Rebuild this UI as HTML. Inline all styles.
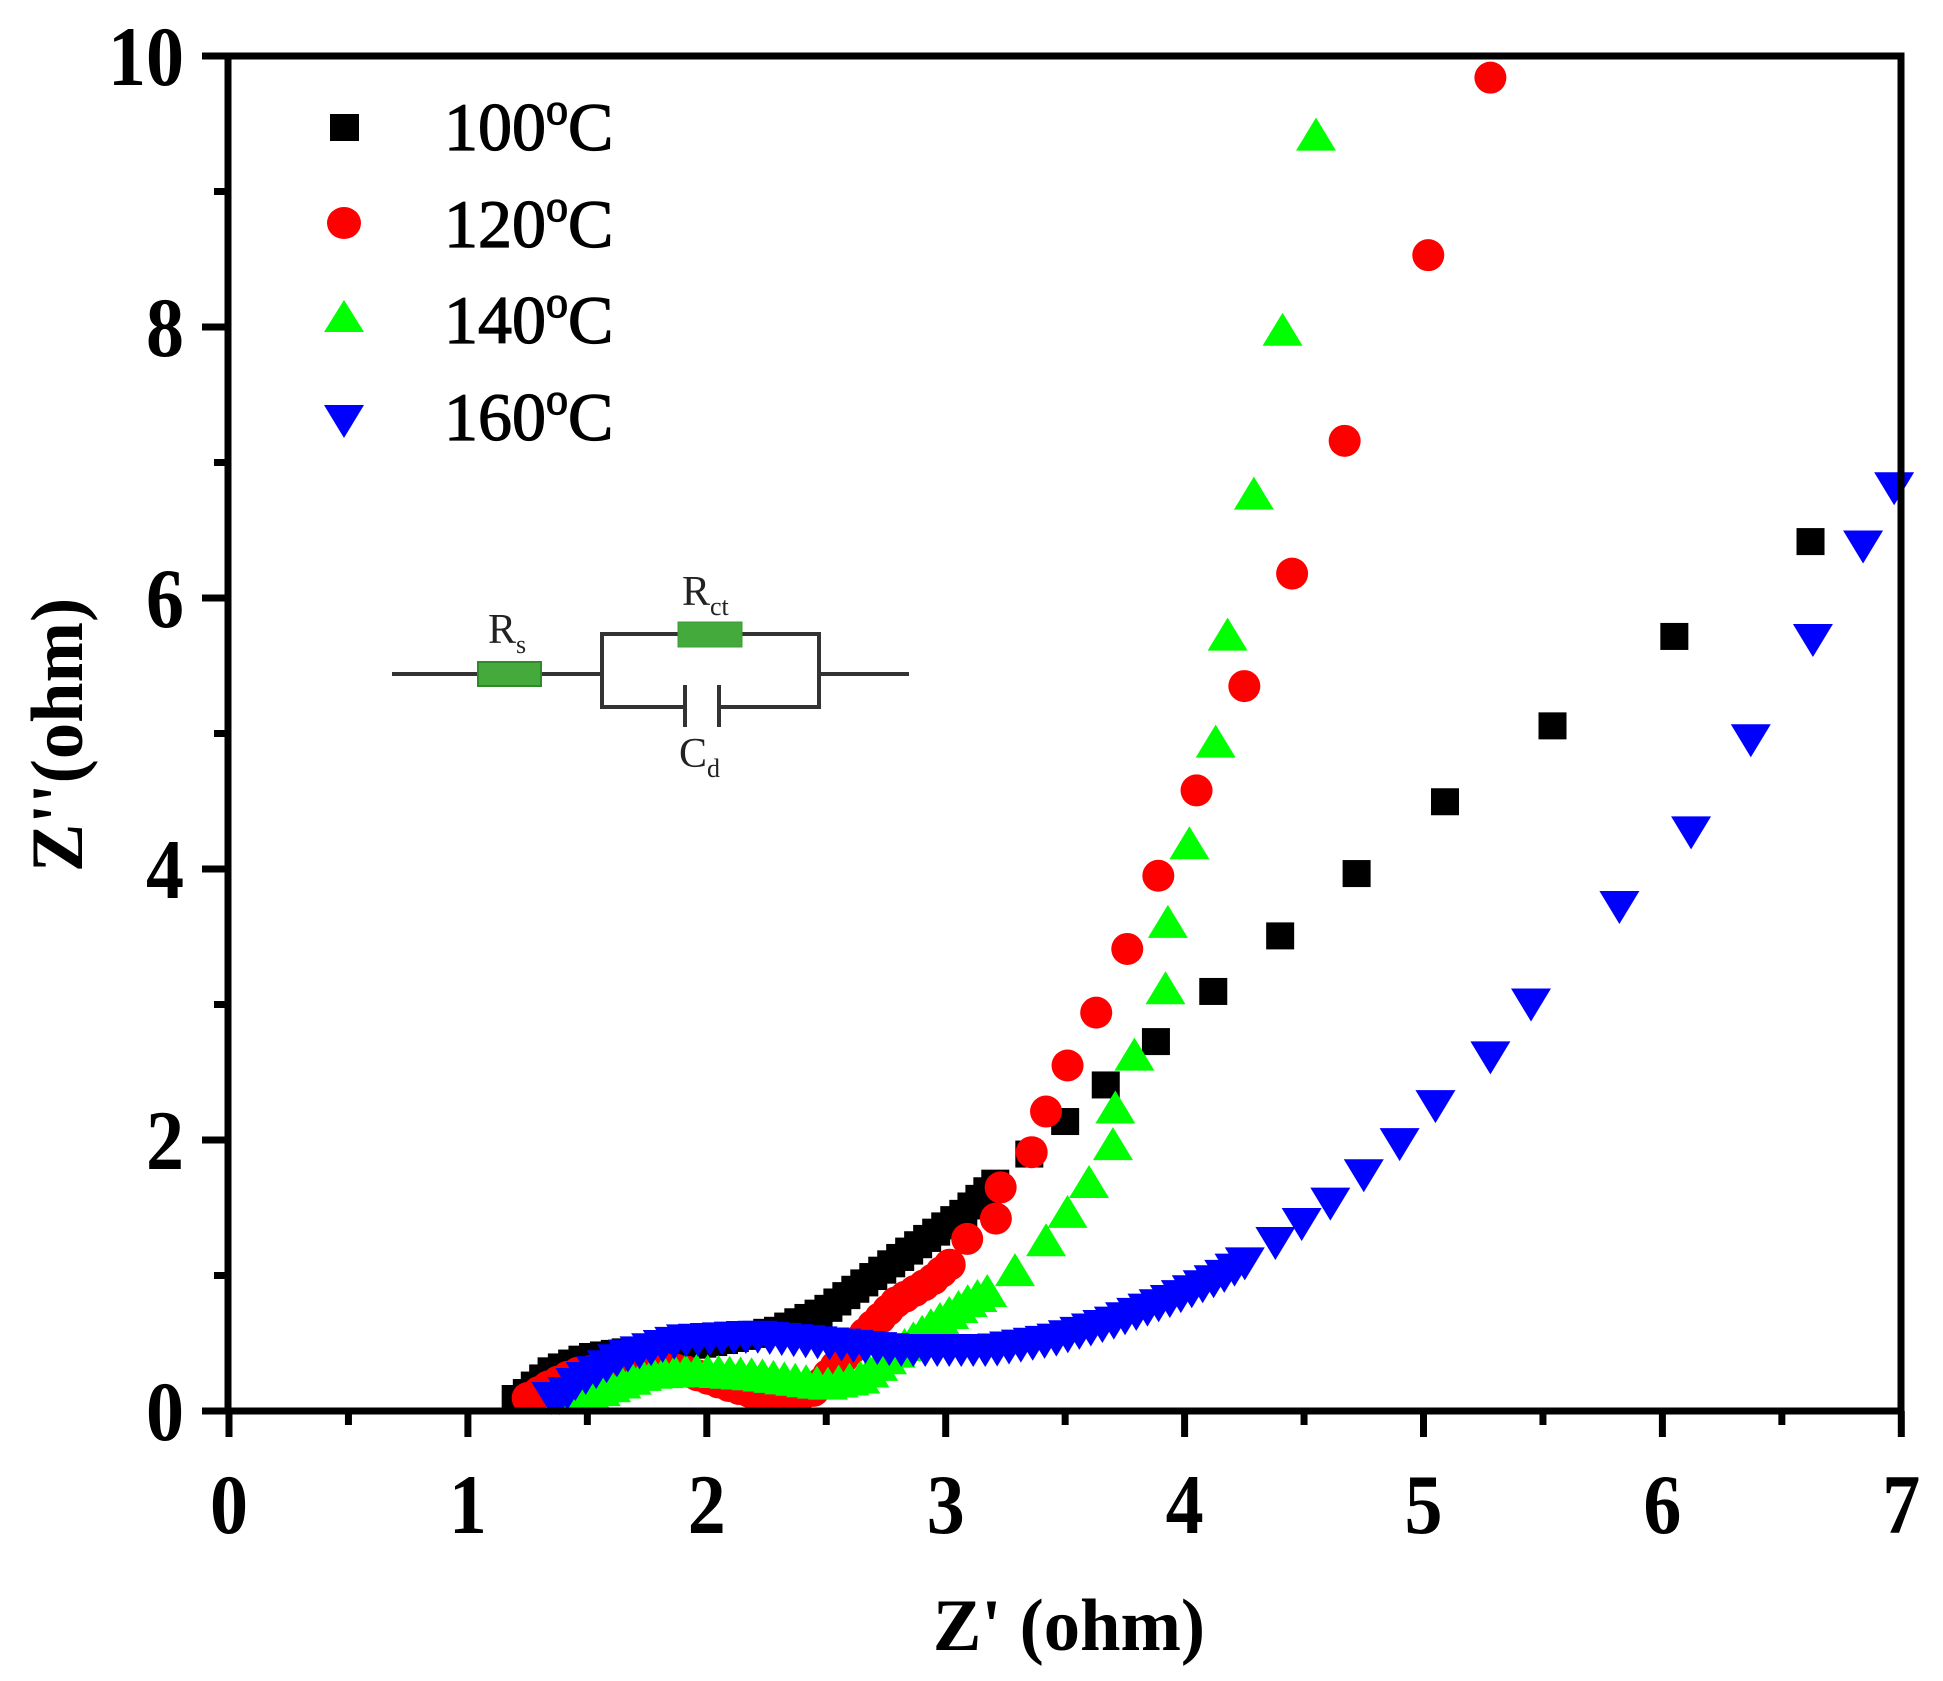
<!DOCTYPE html>
<html><head><meta charset="utf-8"><style>
html,body{margin:0;padding:0;background:#fff;}
svg{display:block;}
text{font-family:"Liberation Serif",serif;}
</style></head><body>
<svg id="s" width="1943" height="1681" viewBox="0 0 1943 1681" xmlns="http://www.w3.org/2000/svg">
<rect width="1943" height="1681" fill="#fff"/>
<g id="data"></g>
<rect x="228" y="56" width="1673" height="1355" fill="none" stroke="#000" stroke-width="7"/>
<g id="ticks" stroke="#000" stroke-width="7"></g>
<g font-weight="bold" font-size="76" fill="#000" id="labels"></g>
<text transform="translate(1069,1650) scale(1.1,1.12)" font-size="66" font-weight="bold" text-anchor="middle">Z' (ohm)</text>
<text transform="translate(82,735) rotate(-90) scale(1.1,1.12)" font-size="66" font-weight="bold" text-anchor="middle">Z''(ohm)</text>
<rect x="330" y="114" width="29" height="27" fill="#000"/>
<ellipse cx="344" cy="223" rx="17" ry="16" fill="#f00"/>
<polygon points="344,300 364,332 324,332" fill="#0f0"/>
<polygon points="324,405 364,405 344,438" fill="#00f"/>
<g font-size="68" fill="#000" stroke="#000" stroke-width="1.2">
<text x="444" y="150">100<tspan dy="-26" font-size="44">o</tspan><tspan dy="26">C</tspan></text>
<text x="444" y="247">120<tspan dy="-26" font-size="44">o</tspan><tspan dy="26">C</tspan></text>
<text x="444" y="343">140<tspan dy="-26" font-size="44">o</tspan><tspan dy="26">C</tspan></text>
<text x="444" y="440">160<tspan dy="-26" font-size="44">o</tspan><tspan dy="26">C</tspan></text>
</g>
<g stroke="#333" stroke-width="4" fill="none">
<line x1="392" y1="674" x2="602" y2="674"/>
<line x1="819" y1="674" x2="909" y2="674"/>
<polyline points="685,707 602,707 602,634 819,634 819,707 719,707"/>
<line x1="685" y1="685" x2="685" y2="727"/>
<line x1="719" y1="685" x2="719" y2="727"/>
</g>
<rect x="478" y="662" width="63" height="24" fill="#44aa3c" stroke="#2f8a2a" stroke-width="2"/>
<rect x="678" y="622" width="64" height="25" fill="#44aa3c" stroke="#3c9c36" stroke-width="1"/>
<g font-size="42" fill="#222">
<text x="488" y="643">R<tspan font-size="26" dy="10">s</tspan></text>
<text x="682" y="605">R<tspan font-size="26" dy="10">ct</tspan></text>
<text x="679" y="767">C<tspan font-size="26" dy="10">d</tspan></text>
</g>
</svg>
<script>
const NS="http://www.w3.org/2000/svg";
const X=x=>229+238.9*x, Y=y=>1411-135.5*y;
const tk=document.getElementById('ticks'), lb=document.getElementById('labels'), dg=document.getElementById('data');
function el(t,a,p){const e=document.createElementNS(NS,t);for(const k in a)e.setAttribute(k,a[k]);p.appendChild(e);return e;}
for(let i=0;i<=14;i++){const x=X(i/2);el('line',{x1:x,y1:1411,x2:x,y2:1411+(i%2?14:26)},tk);}
for(let i=0;i<=10;i++){const y=Y(i);el('line',{x1:228,y1:y,x2:228-(i%2?14:26),y2:y},tk);}
for(let i=0;i<=7;i++){const t=el('text',{transform:`translate(${X(i)},1533) scale(1,1.12)`,'text-anchor':'middle'},lb);t.textContent=i;}
for(let i=0;i<=10;i+=2){const t=el('text',{transform:`translate(184,${Y(i)+29}) scale(1,1.12)`,'text-anchor':'end'},lb);t.textContent=i;}
function dense(pts,step){const out=[];let P=pts.map(p=>[X(p[0]),Y(p[1])]);out.push(P[0]);let carry=0;
 for(let i=1;i<P.length;i++){const dx=P[i][0]-P[i-1][0],dy=P[i][1]-P[i-1][1],L=Math.hypot(dx,dy);let d=step-carry;
  while(d<=L){out.push([P[i-1][0]+dx*d/L,P[i-1][1]+dy*d/L]);d+=step;} carry=L-(d-step);}
 return out;}
function sparse(pts){return pts.map(p=>[X(p[0]),Y(p[1])]);}
function draw(pts,kind,col){for(let [x,y] of pts){ if(y>1398) y=1398;
 if(kind==='s')el('rect',{x:x-14,y:y-13,width:28,height:27,fill:col},dg);
 else if(kind==='c')el('ellipse',{cx:x,cy:y,rx:16,ry:16,fill:col},dg);
 else if(kind==='t')el('polygon',{points:`${x},${y-17} ${x+20},${y+16} ${x-20},${y+16}`,fill:col},dg);
 else el('polygon',{points:`${x-20},${y-16} ${x+20},${y-16} ${x},${y+17}`,fill:col},dg);}}
draw(dense([[1.2,0],[1.25,0.15],[1.35,0.3],[1.5,0.4],[1.7,0.45],[2.0,0.5],[2.3,0.6],[2.5,0.75],[2.7,1.0],[2.9,1.25],[3.08,1.47],[3.24,1.74]],11),'s','#000');
draw(sparse([[3.35,1.9],[3.5,2.14],[3.67,2.41],[3.88,2.73],[4.12,3.1],[4.4,3.51],[4.72,3.97],[5.09,4.5],[5.54,5.06],[6.05,5.72],[6.62,6.42]]),'s','#000');
draw(dense([[1.25,0],[1.3,0.15],[1.45,0.28],[1.7,0.33],[1.9,0.3],[2.1,0.18],[2.3,0.08],[2.45,0.15],[2.55,0.35],[2.65,0.55],[2.79,0.8],[2.94,0.96],[3.03,1.1]],11),'c','#f00');
draw(sparse([[3.09,1.27],[3.21,1.42],[3.23,1.65],[3.36,1.91],[3.42,2.21],[3.51,2.55],[3.63,2.94],[3.76,3.41],[3.89,3.95],[4.05,4.58],[4.25,5.35],[4.45,6.18],[4.67,7.16],[5.02,8.53],[5.28,9.84]]),'c','#f00');
draw(dense([[1.45,0],[1.55,0.15],[1.75,0.28],[1.95,0.3],[2.2,0.27],[2.5,0.2],[2.65,0.25],[2.8,0.45],[2.95,0.65],[3.1,0.82],[3.19,0.9]],11),'t','#0f0');
draw(sparse([[3.29,1.04],[3.42,1.26],[3.51,1.47],[3.6,1.69],[3.7,1.97],[3.71,2.24],[3.79,2.63],[3.92,3.12],[3.93,3.61],[4.02,4.19],[4.13,4.94],[4.18,5.73],[4.29,6.77],[4.41,7.98],[4.55,9.42]]),'t','#0f0');
draw(dense([[1.35,0],[1.45,0.2],[1.65,0.4],[1.9,0.52],[2.2,0.55],[2.5,0.5],[2.8,0.45],[3.2,0.45],[3.45,0.52],[3.7,0.65],[3.95,0.82],[4.15,0.98],[4.29,1.13]],12),'v','#00f');
draw(sparse([[4.38,1.24],[4.49,1.38],[4.61,1.53],[4.75,1.74],[4.9,1.97],[5.05,2.25],[5.28,2.61],[5.45,3.0],[5.82,3.72],[6.12,4.27],[6.37,4.95],[6.63,5.69],[6.84,6.38],[6.97,6.81]]),'v','#00f');
</script>
</body></html>
